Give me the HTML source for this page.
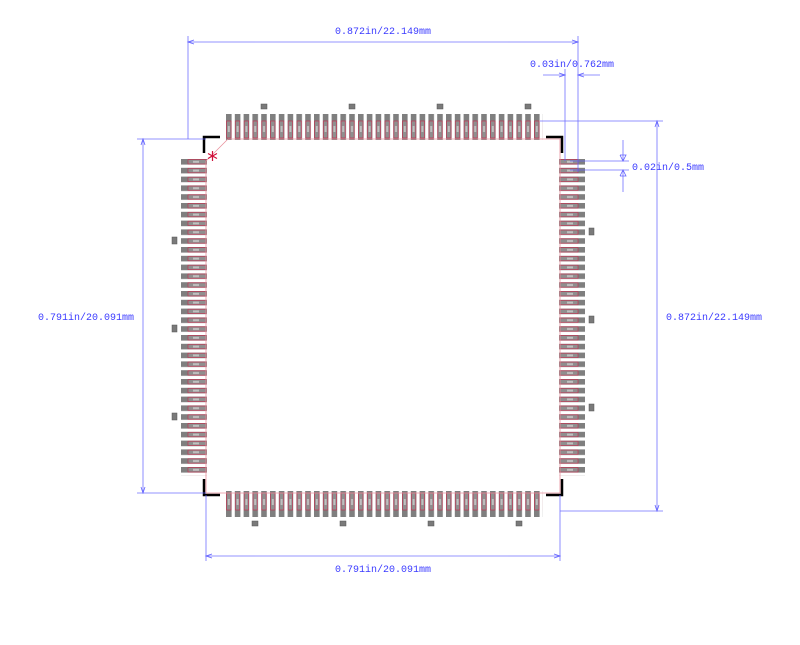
<!DOCTYPE html>
<html><head><meta charset="utf-8"><style>
html,body{margin:0;padding:0;background:#fff;width:800px;height:645px;overflow:hidden}
svg{display:block}
text{font-family:"Liberation Mono","DejaVu Sans Mono",monospace;font-size:10px;fill:#3a3aff}
</style></head><body>
<svg width="800" height="645" viewBox="0 0 800 645" xmlns="http://www.w3.org/2000/svg">
<defs>
<pattern id="pt" patternUnits="userSpaceOnUse" x="226" y="114" width="8.8" height="26">
 <rect x="0" y="0" width="5.6" height="26" fill="#7f7f7f"/>
 <rect x="0.6" y="7" width="4.4" height="17" fill="#8f8f8f" stroke="#c8284a" stroke-width="0.6"/>
 <rect x="1.8" y="12" width="2" height="6" fill="#c0c0c0"/>
</pattern>
<pattern id="pb" patternUnits="userSpaceOnUse" x="226" y="491" width="8.8" height="26">
 <rect x="0" y="0" width="5.6" height="26" fill="#7f7f7f"/>
 <rect x="0.6" y="2" width="4.4" height="17" fill="#8f8f8f" stroke="#c8284a" stroke-width="0.6"/>
 <rect x="1.8" y="8" width="2" height="6" fill="#c0c0c0"/>
</pattern>
<pattern id="pl" patternUnits="userSpaceOnUse" x="181" y="159" width="26" height="8.8">
 <rect x="0" y="0" width="26" height="5.6" fill="#7f7f7f"/>
 <rect x="7" y="0.6" width="18" height="4.4" fill="#8f8f8f" stroke="#c8284a" stroke-width="0.6"/>
 <rect x="12" y="1.8" width="6" height="2" fill="#c0c0c0"/>
</pattern>
<pattern id="pr" patternUnits="userSpaceOnUse" x="559" y="159" width="26" height="8.8">
 <rect x="0" y="0" width="26" height="5.6" fill="#7f7f7f"/>
 <rect x="1" y="0.6" width="18" height="4.4" fill="#8f8f8f" stroke="#c8284a" stroke-width="0.6"/>
 <rect x="8" y="1.8" width="6" height="2" fill="#c0c0c0"/>
</pattern>
</defs>

<rect x="226" y="114" width="316.8" height="26" fill="url(#pt)"/>
<rect x="226" y="491" width="316.8" height="26" fill="url(#pb)"/>
<rect x="181" y="159" width="26" height="316.8" fill="url(#pl)"/>
<rect x="559" y="159" width="26" height="316.8" fill="url(#pr)"/>

<g fill="#7a7a7a" stroke="#555" stroke-width="0.5">
<rect x="261" y="104" width="6" height="5"/><rect x="349" y="104" width="6" height="5"/>
<rect x="437" y="104" width="6" height="5"/><rect x="525" y="104" width="6" height="5"/>
<rect x="252" y="521" width="6" height="5"/><rect x="340" y="521" width="6" height="5"/>
<rect x="428" y="521" width="6" height="5"/><rect x="516" y="521" width="6" height="5"/>
<rect x="172" y="237" width="5" height="7"/><rect x="172" y="325" width="5" height="7"/><rect x="172" y="413" width="5" height="7"/>
<rect x="589" y="228" width="5" height="7"/><rect x="589" y="316" width="5" height="7"/><rect x="589" y="404" width="5" height="7"/>
</g>

<g stroke="#e8909c" stroke-width="0.8" fill="none">
<polyline points="228,139 560,139 560,493 206,493 206,161 228,139"/>
</g>
<g stroke="#d0103a" stroke-width="1.2">
<line x1="212.5" y1="151" x2="212.5" y2="161"/>
<line x1="208" y1="153.5" x2="217" y2="158.5"/>
<line x1="208" y1="158.5" x2="217" y2="153.5"/>
</g>

<g stroke="#000" stroke-width="2.5" fill="none">
<polyline points="220,137 204,137 204,153"/>
<polyline points="546,137 562,137 562,153"/>
<polyline points="204,479 204,495 220,495"/>
<polyline points="562,479 562,495 546,495"/>
</g>

<g stroke="#6060ff" stroke-width="0.8" fill="none" opacity="0.9">
<line x1="188" y1="36" x2="188" y2="139"/>
<line x1="578" y1="36" x2="578" y2="172"/>
<line x1="188" y1="42" x2="578" y2="42"/>
<line x1="565" y1="69" x2="565" y2="161"/>
<line x1="543" y1="75" x2="565" y2="75"/>
<line x1="578" y1="75" x2="600" y2="75"/>
<line x1="137" y1="139" x2="206" y2="139"/>
<line x1="137" y1="493" x2="206" y2="493"/>
<line x1="143" y1="139" x2="143" y2="493"/>
<line x1="540" y1="121" x2="663" y2="121"/>
<line x1="560" y1="511" x2="663" y2="511"/>
<line x1="657" y1="121" x2="657" y2="511"/>
<line x1="206" y1="495" x2="206" y2="561"/>
<line x1="560" y1="495" x2="560" y2="561"/>
<line x1="206" y1="556" x2="560" y2="556"/>
<line x1="570" y1="161" x2="629" y2="161"/>
<line x1="570" y1="170" x2="629" y2="170"/>
<line x1="623" y1="140" x2="623" y2="161"/>
<line x1="623" y1="170" x2="623" y2="192"/>
</g>
<g fill="none" stroke="#6060ff" stroke-width="0.8">
<polyline points="194,40 188,42 194,44"/><polyline points="572,40 578,42 572,44"/>
<polyline points="559,73 565,75 559,77"/><polyline points="584,73 578,75 584,77"/>
<polyline points="141,145 143,139 145,145"/><polyline points="141,487 143,493 145,487"/>
<polyline points="655,127 657,121 659,127"/><polyline points="655,505 657,511 659,505"/>
<polyline points="212,554 206,556 212,558"/><polyline points="554,554 560,556 554,558"/>
<polyline points="620,155 623,161 626,155 620,155"/><polyline points="620,176 623,170 626,176 620,176"/>
</g>

<text x="383" y="34" text-anchor="middle">0.872in/22.149mm</text>
<text x="572" y="67" text-anchor="middle">0.03in/0.762mm</text>
<text x="632" y="170">0.02in/0.5mm</text>
<text x="86" y="320" text-anchor="middle">0.791in/20.091mm</text>
<text x="714" y="320" text-anchor="middle">0.872in/22.149mm</text>
<text x="383" y="572" text-anchor="middle">0.791in/20.091mm</text>
</svg>
</body></html>
